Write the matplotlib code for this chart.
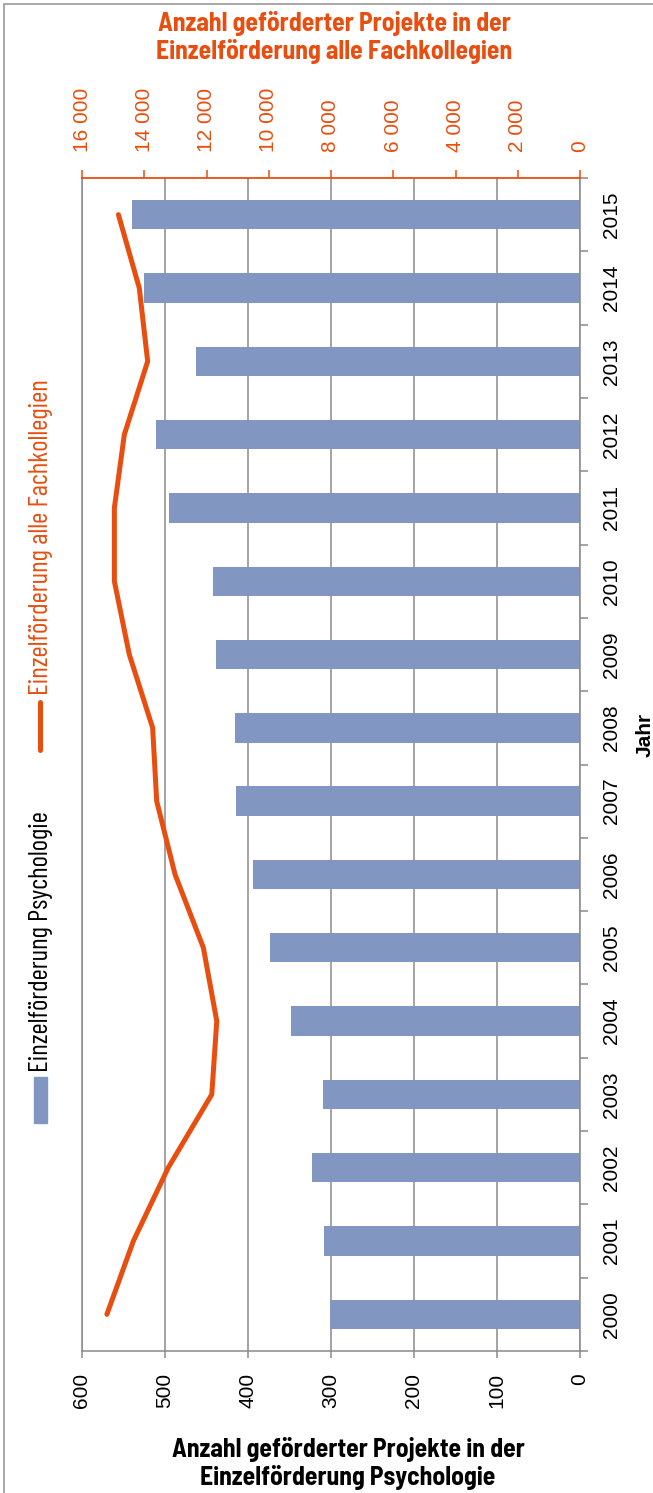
import matplotlib.pyplot as plt
from matplotlib.patches import Rectangle
from matplotlib.lines import Line2D
import matplotlib.ticker as mticker
import numpy as np

# data
years = ['2000', '2001', '2002', '2003', '2004', '2005', '2006', '2007',
         '2008', '2009', '2010', '2011', '2012', '2013', '2014', '2015']
psychologie = [301, 308, 323, 310, 348, 374, 394, 415,
               416, 438, 442, 495, 511, 463, 525, 540]
alle_fachkollegien = [15200, 14350, 13230, 11830, 11670, 12100, 13010, 13600,
                      13730, 14480, 14960, 14960, 14640, 13890, 14160, 14830]

orange = '#E84E0F'
blue = '#8196C0'
grey = '#8A8A8A'
title_font = ['Barlow Semi Condensed', 'DejaVu Sans']
legend_font = ['Barlow Condensed', 'DejaVu Sans']
plt.rcParams['font.family'] = ['Liberation Sans', 'DejaVu Sans']

W, H = 653, 1493
fig = plt.figure(figsize=(W / 100, H / 100), dpi=100)
ax = fig.add_axes([82 / W, 1 - 1351 / H, (580 - 82) / W, (1351 - 178) / H])

pos = np.arange(len(years))
ax.barh(pos, psychologie, height=0.4, color=blue, zorder=2)
ax.set_xlim(600, 0)
ax.set_ylim(-0.5, len(years) - 0.5)

# primary value axis (bottom)
ax.set_xticks(range(0, 601, 100))
ax.grid(axis='x', color=grey, lw=1.1, zorder=0)
ax.tick_params(axis='x', which='major', direction='out', length=5, width=1.1,
               color=grey, labelsize=15, pad=11, labelrotation=90)

# category axis on the right
ax.yaxis.tick_right()
ax.set_yticks(pos)
ax.set_yticklabels(years, rotation=90, va='center')
ax.set_yticks(np.arange(-0.5, len(years)), minor=True)
ax.tick_params(axis='y', which='major', length=0, labelsize=15, pad=16)
ax.tick_params(axis='y', which='minor', direction='out', length=6, width=1.1, color=grey)
for s in ['left', 'right', 'bottom']:
    ax.spines[s].set_color(grey)
    ax.spines[s].set_linewidth(1.1)
ax.spines['top'].set_visible(False)

# secondary axis (top)
ax2 = ax.twiny()
ax2.plot(alle_fachkollegien, pos, color=orange, lw=3.6, solid_capstyle='round', zorder=3)
ax2.set_xlim(16000, 0)
ax2.set_xticks(range(0, 16001, 2000))
ax2.xaxis.set_major_formatter(mticker.FuncFormatter(lambda v, p: f'{int(v):,}'.replace(',', ' ')))
ax2.tick_params(axis='x', direction='out', length=6, width=1.1, color=orange,
                labelcolor=orange, labelsize=15, pad=13, labelrotation=90)
ax2.spines['top'].set_color(orange)
ax2.spines['top'].set_linewidth(1.3)
for s in ['left', 'right', 'bottom']:
    ax2.spines[s].set_visible(False)

# titles
fig.text(334 / W, 1 - 37 / H, 'Anzahl geförderter Projekte in der\nEinzelförderung alle Fachkollegien',
         color=orange, fontsize=18.5, fontweight='bold', family=title_font,
         ha='center', va='center', linespacing=1.15)
fig.text(348 / W, 1 - 1464 / H, 'Anzahl geförderter Projekte in der\nEinzelförderung Psychologie',
         color='black', fontsize=18.5, fontweight='bold', family=title_font,
         ha='center', va='center', linespacing=1.15)
fig.text(645 / W, 1 - 735 / H, 'Jahr', rotation=90, fontsize=15, fontweight='bold',
         ha='center', va='center')

# legend (rotated)
fig.add_artist(Rectangle((34 / W, 1 - 1123 / H), 13 / W, 46 / H, color=blue,
                         transform=fig.transFigure))
fig.text(41 / W, 1 - 1072 / H, 'Einzelförderung Psychologie', rotation=90,
         fontsize=19.5, family=legend_font, ha='center', va='bottom')
fig.add_artist(Line2D([40 / W, 40 / W], [1 - 750 / H, 1 - 702 / H], color=orange, lw=3.6,
                      solid_capstyle='round', transform=fig.transFigure))
fig.text(41 / W, 1 - 695 / H, 'Einzelförderung alle Fachkollegien', rotation=90,
         fontsize=19.5, family=legend_font, color=orange, ha='center', va='bottom')

# outer frame (only left and top visible)
fig.add_artist(Rectangle((4 / W, -0.05), 1.2, 1.05 - 4 / H, fill=False,
                         edgecolor='#9A9A9A', lw=1.2, transform=fig.transFigure))

fig.savefig('out.png', dpi=100)
